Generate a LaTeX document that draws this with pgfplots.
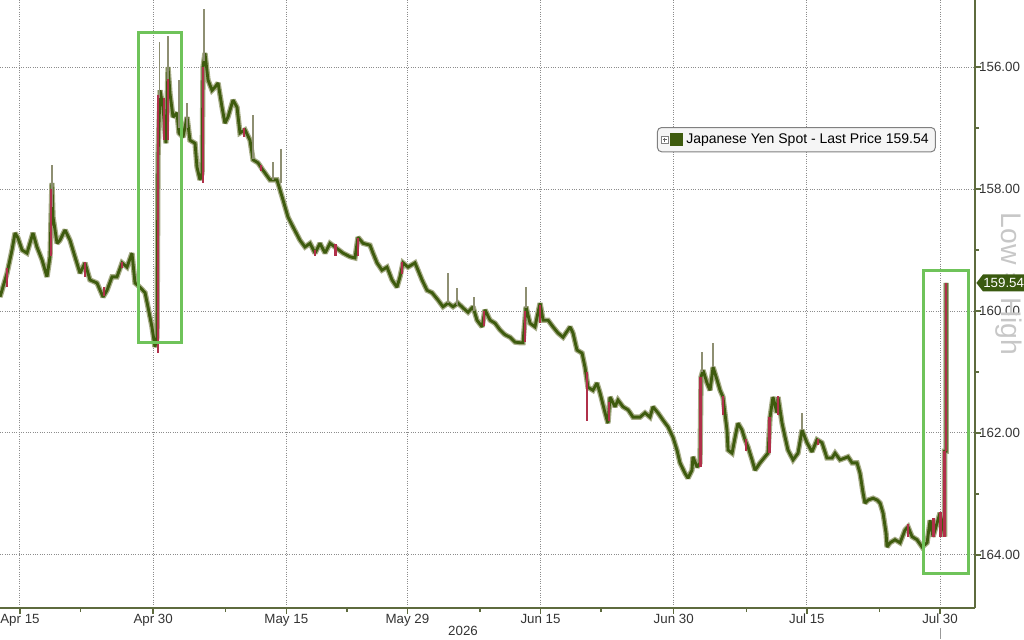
\documentclass[border=0pt]{standalone}
\usepackage{fontspec}
\setmainfont{Liberation Sans}
\usepackage{pgfplots}
\pgfplotsset{compat=1.18}
\usepackage{pgfplotstable}

\definecolor{candle}{HTML}{3E5B0E}
\definecolor{candlelt}{HTML}{A7AC88}
\definecolor{upred}{HTML}{B0304A}
\definecolor{wick}{HTML}{8E8F72}
\definecolor{hl}{HTML}{6FC35A}
\definecolor{axisol}{HTML}{5E6B3E}
\definecolor{tagcol}{HTML}{3A5A10}
\definecolor{txt}{HTML}{333333}

% x = trading days after Apr 15 2026, y = USDJPY
\pgfplotstableread{
x y
-1.65 159.77
-1.07 159.38
-0.66 159.00
-0.41 158.72
-0.17 158.80
0.17 159.00
0.58 159.05
1.07 158.72
1.40 158.95
1.82 159.16
2.23 159.44
2.48 159.11
2.64 157.90
2.73 158.46
3.06 158.89
3.30 158.84
3.72 158.67
4.13 158.84
4.54 159.11
4.96 159.38
5.37 159.21
5.78 159.49
6.36 159.54
6.86 159.77
7.19 159.66
7.60 159.44
8.01 159.44
8.43 159.21
8.84 159.28
9.25 159.05
9.50 159.54
9.91 159.61
10.33 159.70
10.57 159.93
10.90 160.26
11.15 160.59
11.32 160.43
11.40 157.48
11.57 156.38
11.81 156.66
12.06 157.25
12.23 156.00
12.39 156.43
12.64 156.82
12.97 156.75
13.13 157.08
13.46 157.15
13.80 156.82
14.04 157.20
14.46 157.25
14.62 157.64
14.87 157.85
15.04 157.74
15.12 156.00
15.28 155.77
15.53 156.21
15.86 156.38
16.11 156.33
16.36 156.26
16.69 156.66
16.93 156.92
17.18 156.82
17.60 156.54
17.93 156.66
18.17 157.08
18.59 157.03
19.00 157.20
19.25 157.52
19.66 157.57
20.07 157.69
20.65 157.85
21.23 157.85
21.73 158.18
22.14 158.46
22.55 158.62
23.13 158.84
23.54 158.95
23.96 158.89
24.37 159.05
24.78 158.89
25.20 159.05
25.61 158.89
26.02 158.95
26.68 159.05
27.26 159.11
27.67 159.13
27.92 158.79
28.34 158.89
28.91 158.92
29.16 159.05
29.49 159.21
29.90 159.33
30.32 159.28
30.73 159.49
31.14 159.61
31.39 159.44
31.64 159.21
32.05 159.28
32.63 159.21
32.88 159.33
33.21 159.49
33.62 159.66
34.04 159.70
34.53 159.82
34.94 159.93
35.36 159.87
35.77 159.93
36.18 159.87
36.60 159.95
37.01 160.02
37.42 159.93
37.75 160.15
38.17 160.26
38.41 159.98
38.83 160.15
39.24 160.20
39.65 160.31
40.07 160.39
40.48 160.43
40.89 160.51
41.30 160.52
41.55 160.52
41.80 159.93
42.13 160.20
42.54 160.26
42.96 159.87
43.21 160.15
43.62 160.15
44.03 160.26
44.44 160.36
44.86 160.43
45.44 160.26
45.68 160.36
46.01 160.64
46.43 160.69
46.67 160.92
46.92 161.25
47.33 161.30
47.66 161.18
47.91 161.34
48.33 161.67
48.57 161.84
48.74 161.41
49.15 161.57
49.40 161.46
49.81 161.57
50.23 161.62
50.64 161.74
51.22 161.74
51.63 161.67
52.04 161.74
52.29 161.57
52.70 161.67
53.12 161.79
53.53 161.90
53.94 162.07
54.27 162.28
54.52 162.49
54.93 162.66
55.18 162.74
55.51 162.61
55.59 162.39
55.93 162.56
56.17 162.49
56.26 161.08
56.42 160.97
56.75 161.18
57.00 161.30
57.25 160.92
57.58 161.13
57.83 161.30
58.07 161.41
58.40 161.95
58.49 162.28
58.82 162.33
59.07 162.07
59.31 161.84
59.64 161.95
59.89 162.11
60.14 162.23
60.47 162.44
60.72 162.61
61.13 162.49
61.54 162.39
61.79 162.33
61.96 161.74
62.20 161.41
62.53 161.67
62.62 161.41
62.95 161.84
63.20 162.07
63.44 162.28
63.86 162.44
64.27 162.33
64.60 161.95
65.01 162.16
65.42 162.31
65.84 162.11
66.25 162.16
66.66 162.41
67.08 162.41
67.33 162.33
67.74 162.44
68.15 162.41
68.40 162.39
68.73 162.49
69.14 162.49
69.39 162.66
69.64 162.98
69.80 163.15
70.05 163.10
70.47 163.07
70.80 163.10
71.05 163.15
71.29 163.31
71.54 163.64
71.62 163.87
71.87 163.80
72.28 163.75
72.70 163.80
73.11 163.59
73.36 163.54
73.69 163.70
74.10 163.75
74.52 163.87
74.93 163.80
75.18 163.43
75.42 163.70
75.75 163.48
76.00 163.31
76.25 163.54
76.38 163.70
76.38 162.30
76.50 162.30
76.50 159.54
}\jpydata

% wicks: x low-end high-end
\pgfplotstableread{
x ya yb
2.64 157.61 158.30
11.52 155.59 156.50
12.23 155.49 156.20
13.13 156.21 157.00
13.80 156.59 157.00
15.20 155.05 155.90
19.25 156.79 157.50
20.90 157.56 157.85
21.56 157.34 157.90
35.36 159.38 159.87
36.10 159.62 159.90
37.50 159.77 160.00
41.80 159.61 159.95
56.34 160.67 161.00
57.25 160.52 160.92
64.60 161.67 161.95
}\wicks

% small red candles: x, open, close
\pgfplotstableread{
x ya yb
-1.05 159.60 159.30
2.56 159.10 158.00
5.35 159.20 159.45
6.95 159.75 159.60
8.45 159.20 159.30
11.92 156.50 157.20
12.22 156.20 157.20
18.50 157.00 157.15
19.90 157.60 157.70
24.35 159.00 159.10
26.05 158.90 159.10
27.92 159.10 158.80
31.55 159.40 159.20
38.35 160.25 160.00
41.72 160.50 160.00
42.95 160.20 159.90
46.82 161.00 161.80
48.65 161.80 161.50
58.05 161.40 161.70
59.95 162.10 162.30
62.62 161.40 161.70
65.90 162.10 162.20
73.35 163.50 163.70
75.45 163.70 163.40
76.05 163.70 163.30
}\redsmall

% large up candles
\pgfplotstableread{
x ya yb
11.40 160.69 156.46
15.12 157.90 156.00
56.22 162.56 161.08
61.90 162.33 161.74
76.38 163.70 162.30
76.50 162.30 159.54
}\redbig

\begin{document}
\begin{tikzpicture}
\path[use as bounding box] (0,-18.6pt) rectangle (614.4pt,364.8pt);
\begin{axis}[
  at={(0pt,0pt)}, anchor=south west,
  scale only axis, width=585pt, height=364.8pt,
  xmin=-1.652, xmax=78.89, ymin=154.90, ymax=164.87,
  y dir=reverse,
  axis x line*=bottom, axis y line*=right,
  axis line style={color=axisol, line width=0.8pt},
  xtick={0,11,22,32,43,54,65,76},
  xticklabels={Apr 15,Apr 30,May 15,May 29,Jun 15,Jun 30,Jul 15,Jul 30},
  minor xtick={5,17,27,38,48,60,71},
  ytick={156,158,160,162,164},
  minor ytick={157,159,161,163},
  grid=major,
  major grid style={densely dotted, color=black!45, line width=0.6pt},
  tick align=outside,
  major tick length=3.5pt, minor tick length=2.5pt,
  tick style={color=axisol, line width=0.8pt},
  ticklabel style={font=\fontsize{8}{9}\selectfont, color=txt},
  xticklabel style={yshift=3.4pt},
  yticklabel style={anchor=west, inner xsep=0.6pt, xshift=-1.8pt,
    /pgf/number format/.cd, fixed, fixed zerofill, precision=2, assume math mode=true},
  legend style={at={(0.6738,0.7911)}, anchor=north west,
    rounded corners=2.5pt, fill=black!4, draw=black!50, line width=0.6pt,
    font=\fontsize{8.4}{10}\selectfont, inner xsep=2pt, inner ysep=1.5pt},
  legend cell align=left,
]
% candle outline and body
\addplot[candlelt, line width=3.2pt, line join=miter, miter limit=2, forget plot] table {\jpydata};
\addplot[candle, line width=1.7pt, line join=miter, miter limit=2, forget plot] table {\jpydata};

% wicks and red candles as y error bars around the segment midpoints
\addplot[wick, line width=0.7pt, forget plot, draw=none,
  error bars/.cd, y dir=both, y explicit, error bar style={wick, line width=0.7pt},
  error mark=none]
  table[x=x, y expr={(\thisrow{ya}+\thisrow{yb})/2}, y error expr={abs(\thisrow{yb}-\thisrow{ya})/2}] {\wicks};
\addplot[upred, forget plot, draw=none,
  error bars/.cd, y dir=both, y explicit, error bar style={upred, line width=1.4pt},
  error mark=none]
  table[x=x, y expr={(\thisrow{ya}+\thisrow{yb})/2}, y error expr={abs(\thisrow{yb}-\thisrow{ya})/2}] {\redsmall};
\addplot[upred, forget plot, draw=none,
  error bars/.cd, y dir=both, y explicit, error bar style={upred, line width=1.6pt},
  error mark=none]
  table[x=x, y expr={(\thisrow{ya}+\thisrow{yb})/2}, y error expr={abs(\thisrow{yb}-\thisrow{ya})/2}] {\redbig};

\addlegendimage{legend image code/.code={
  \draw[sharp corners, black!50, line width=0.4pt, fill=white] (-1pt,-2.2pt) rectangle (3.4pt,2.2pt);
  \draw[sharp corners, black!60, line width=0.4pt] (0pt,0pt) -- (2.4pt,0pt) (1.2pt,-1.2pt) -- (1.2pt,1.2pt);
  \fill[sharp corners, candle] (4.6pt,-3.6pt) rectangle (11.8pt,3.6pt);
}}
\addlegendentry{Japanese Yen Spot - Last Price 159.54}

\coordinate (b1a) at (axis cs:9.75,155.43);
\coordinate (b1b) at (axis cs:13.30,160.51);
\coordinate (b2a) at (axis cs:74.60,159.33);
\coordinate (b2b) at (axis cs:78.31,164.31);
\coordinate (lp) at (axis cs:78.89,159.54);
\coordinate (lab) at (axis cs:78.89,159.56);
\coordinate (today) at (axis cs:76,164.87);
\coordinate (yr) at (axis cs:36.6,164.87);
\end{axis}

% highlight boxes
\draw[hl, line width=1.8pt] (b1a) rectangle (b1b);
\draw[hl, line width=1.8pt] (b2a) rectangle (b2b);

% axis side label
\node[rotate=-90, color=black!22, font=\fontsize{17}{18}\selectfont]
  at ([xshift=20.5pt]lab) {Low = High};

% last price tag
\fill[tagcol] ([xshift=0.8pt]lp) -- ([xshift=4.8pt,yshift=5.1pt]lp) -- ([xshift=29.4pt,yshift=5.1pt]lp)
  -- ([xshift=29.4pt,yshift=-5.1pt]lp) -- ([xshift=4.8pt,yshift=-5.1pt]lp) -- cycle;
\node[white, font=\fontsize{8}{9}\selectfont, inner sep=0pt] at ([xshift=17.2pt]lp) {159.54};

% today marker below axis and year label
\draw[black!40, line width=0.6pt] ([yshift=-12pt]today) -- ([yshift=-18.6pt]today);
\node[color=txt, font=\fontsize{8}{9}\selectfont] at ([yshift=-13.6pt]yr) {2026};
\end{tikzpicture}
\end{document}
